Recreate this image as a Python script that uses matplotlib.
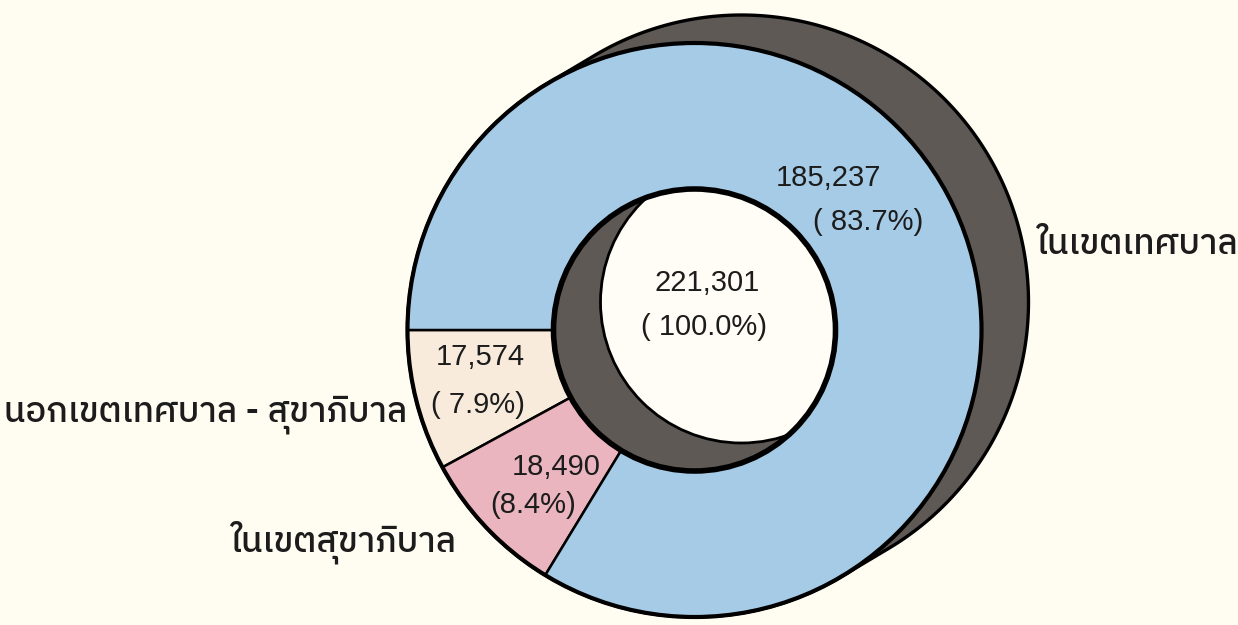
import matplotlib
matplotlib.use("Agg")
import numpy as np
import matplotlib.pyplot as plt
from matplotlib import font_manager
from matplotlib.patches import Circle, Polygon

# ---------------- data ----------------
categories = ["นอกเขตเทศบาล - สุขาภิบาล", "ในเขตสุขาภิบาล", "ในเขตเทศบาล"]
values = [17574, 18490, 185237]
value_labels = ["17,574", "18,490", "185,237"]
pct_labels = ["( 7.9%)", "(8.4%)", "( 83.7%)"]
total_label = "221,301"
total_pct_label = "( 100.0%)"
total = sum(values)

# ---------------- find a Thai-capable font ----------------
def find_thai_font():
    try:
        from fontTools.ttLib import TTFont
    except Exception:
        return None
    cands = []
    for fe in font_manager.fontManager.ttflist:
        try:
            f = TTFont(fe.fname, fontNumber=0, lazy=True)
            cmap = f.getBestCmap()
            if cmap and 0x0E40 in cmap and 0x0E01 in cmap:
                score = 0
                n = fe.name.lower()
                if "sans" in n: score -= 2
                if "thai" in n: score -= 1
                if fe.weight not in (400, "normal", "regular"): score += 3
                if fe.style != "normal": score += 3
                cands.append((score, fe.name))
        except Exception:
            pass
    if not cands:
        return None
    cands.sort()
    return cands[0][1]

thai = find_thai_font()
thai_family = [thai, "DejaVu Sans"] if thai else ["DejaVu Sans"]
num_family = ["Liberation Sans", "DejaVu Sans"]

# ---------------- colours ----------------
bg = "#fffcf1"
hole_col = "#fffdf5"
blue = "#a5cbe6"
cream = "#f8ebdc"
pink = "#ebb5c0"
dark = "#5e5955"
ink = "#1c1c1c"

W, H = 1238, 625
fig = plt.figure(figsize=(W / 100, H / 100), dpi=100)
fig.patch.set_facecolor(bg)
ax = fig.add_axes([0, 0, 1, 1])
ax.set_facecolor(bg)

# geometry (pixel coordinates, y up)
R = 287
rin = 141
front_c = np.array([694.5, H - 330.0])
back_c = np.array([741.5, H - 302.0])

# extruded side of the ring (hull of the two outer circles)
d = back_c - front_c
ang0 = np.degrees(np.arctan2(d[1], d[0]))
t_back = np.radians(np.linspace(ang0 - 90, ang0 + 90, 200))
t_front = np.radians(np.linspace(ang0 + 90, ang0 + 270, 200))
hull = np.vstack([
    np.column_stack([back_c[0] + R * np.cos(t_back), back_c[1] + R * np.sin(t_back)]),
    np.column_stack([front_c[0] + R * np.cos(t_front), front_c[1] + R * np.sin(t_front)]),
])
ax.add_patch(Polygon(hull, closed=True, facecolor=dark, edgecolor="none",
                     zorder=0.5))

# back (shadow) ring
ax.pie([total], radius=R, center=tuple(back_c), colors=[dark], startangle=180,
       wedgeprops=dict(width=R - rin, edgecolor="none", linewidth=0),
       frame=True)
# outline of the extruded shape
ax.add_patch(Polygon(hull, closed=True, facecolor="none", edgecolor="black",
                     linewidth=2.4, zorder=2.5))
# visible see-through hole
ax.add_patch(Circle(tuple(back_c), rin, facecolor=hole_col, edgecolor="black",
                    linewidth=2.0, zorder=2))

# front ring
colors = [cream, pink, blue]
wedges, _ = ax.pie(values, radius=R, center=tuple(front_c), colors=colors,
                   startangle=180, counterclock=True,
                   wedgeprops=dict(width=R - rin, edgecolor="black",
                                   linewidth=1.8),
                   frame=True)
for w in wedges:
    w.set_zorder(3)
ax.add_patch(Circle(tuple(front_c), R, facecolor="none", edgecolor="black",
                    linewidth=3.0, zorder=4))
ax.add_patch(Circle(tuple(front_c), rin, facecolor="none", edgecolor="black",
                    linewidth=4.0, zorder=4))

ax.set_xlim(0, W)
ax.set_ylim(0, H)
ax.set_aspect("equal")
ax.axis("off")

def img(x, y):
    return (x, H - y)

fs_num = 21
txt = dict(ha="center", va="center", fontsize=fs_num, family=num_family,
           color=ink, zorder=6)
ax.text(*img(828, 178), value_labels[2], **txt)
ax.text(*img(868, 222), pct_labels[2], **txt)
ax.text(*img(707, 283), total_label, **txt)
ax.text(*img(704, 327), total_pct_label, **txt)
ax.text(*img(480, 357), value_labels[0], **txt)
ax.text(*img(478, 405), pct_labels[0], **txt)
ax.text(*img(556, 467), value_labels[1], **txt)
ax.text(*img(533, 505), pct_labels[1], **txt)

fs_thai = 25
ttxt = dict(ha="center", va="center", fontsize=fs_thai, family=thai_family,
            color=ink, zorder=6, fontweight="medium")
ax.text(*img(1137, 245), categories[2], **ttxt)
ax.text(*img(206, 415), categories[0], **ttxt)
ax.text(*img(343, 542), categories[1], **ttxt)

fig.savefig("out.png", dpi=100, facecolor=bg)
